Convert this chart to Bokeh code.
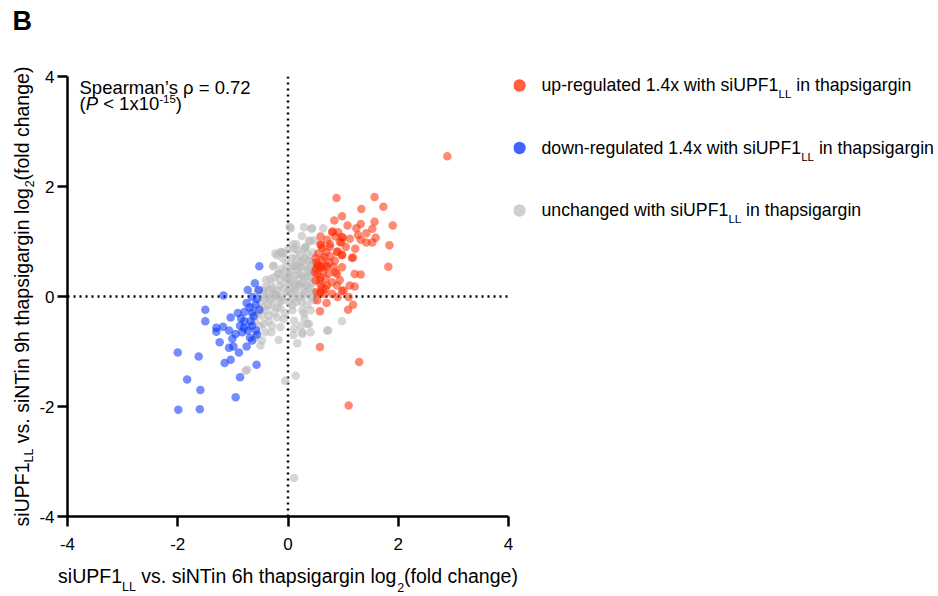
import math
from bokeh.plotting import figure
from bokeh.layouts import row, column
from bokeh.models import Range1d, Span, Label, FixedTicker
from bokeh.embed import file_html
from bokeh.resources import INLINE

# ---------------- data (log2 fold changes) ----------------
up_x = [2.89, 0.88, 1.57, 1.33, 1.73, 0.84, 0.98, 1.08, 1.32, 1.57, 1.90, 1.24, 1.53, 0.81, 0.91,
        1.27, 1.42, 1.59, 0.59, 0.71, 0.86, 0.99, 0.97, 1.32, 1.42, 1.53, 1.84, 0.59, 0.76, 1.22,
        0.69, 0.90, 0.98, 0.50, 0.62, 0.77, 1.18, 1.82, 0.53, 0.58, 0.71, 0.83, 0.98, 0.53, 0.74,
        0.86, 0.94, 1.21, 1.32, 0.50, 0.59, 0.71, 0.89, 1.12, 1.21, 0.59, 0.98, 0.53, 0.70, 0.90,
        1.10, 1.18, 1.09, 0.58, 0.58, 0.58, 1.29, 1.10, 0.56, 0.62, 0.49, 0.68, 0.89, 0.59, 0.68,
        0.80, 0.62, 0.52, 0.68, 1.01, 0.80, 0.98, 0.94, 0.60, 0.76, 0.89, 0.98, 1.16, 0.52, 0.55,
        0.64, 0.66, 0.51, 0.57, 0.75, 0.85, 0.62, 1.05, 1.12, 0.66, 0.80]
up_y = [2.55, 1.79, 1.81, 1.59, 1.63, 1.38, 1.46, 1.29, 1.32, 1.36, 1.29, 1.24, 1.23, 1.18, 1.17,
        1.12, 1.15, 1.07, 1.09, 1.03, 1.09, 1.07, 0.98, 1.03, 0.98, 0.98, 0.93, 0.95, 0.95, 0.87,
        0.81, 0.82, 0.76, 0.70, 0.67, 0.73, 0.71, 0.54, 0.56, 0.53, 0.55, 0.53, 0.53, 0.41, 0.42,
        0.44, 0.30, 0.41, 0.40, 0.29, 0.22, 0.20, 0.20, 0.20, 0.18, 0.08, 0.10, -0.07, -0.12, -0.01,
        -0.01, -0.15, -0.24, -0.27, 0.06, -0.92, -1.19, -1.98, 0.56, 0.53, 0.44, 0.56, 0.41, 0.35, 0.32,
        0.26, 0.17, 0.08, 0.14, 0.11, 1.17, 1.08, 0.99, 0.93, 0.90, 0.81, 0.75, 0.70, 0.62, 0.78,
        0.45, 0.72, 0.50, 0.30, 0.62, 0.65, 0.88, 0.90, 1.05, 0.05, 0.05]

down_x = [-0.52, -0.60, -0.73, -0.53, -1.17, -0.65, -0.56, -0.75, -0.59, -1.50, -0.52, -0.79, -0.91,
          -0.65, -1.04, -1.50, -0.68, -0.79, -1.18, -1.30, -0.87, -0.80, -0.65, -1.07, -1.30, -0.95,
          -0.83, -0.73, -0.56, -1.01, -0.69, -1.24, -0.65, -0.99, -1.07, -0.75, -0.89, -1.04, -1.15,
          -0.57, -2.00, -1.62, -1.83, -0.87, -1.59, -0.95, -1.99, -1.60, -0.62, -0.70, -0.85, -0.58]
down_y = [0.55, 0.24, 0.12, 0.12, 0.02, -0.01, -0.04, -0.12, -0.15, -0.24, -0.24, -0.28, -0.30,
          -0.30, -0.38, -0.45, -0.45, -0.45, -0.55, -0.57, -0.53, -0.57, -0.53, -0.62, -0.64, -0.68,
          -0.65, -0.62, -0.69, -0.77, -0.75, -0.83, -0.80, -0.91, -0.93, -0.91, -1.02, -1.15, -1.21,
          -1.24, -1.02, -1.09, -1.51, -1.47, -1.70, -1.83, -2.06, -2.05, -0.36, -0.20, -0.40, -0.62]

unch_x = [0.03, 0.29, 0.42, 0.38, -0.14, -0.23, 0.17, 0.29, 0.35, 0.14, 0.26, 0.38, 0.11, 0.23, 0.38,
          -0.05, -0.17, -0.32, 0.14, 0.29, 0.41, 0.05, 0.20, 0.35, -0.14, -0.29, -0.44, -0.01, 0.14,
          0.29, 0.44, -0.20, -0.38, 0.47, -0.41, -0.26, -0.11, 0.11, 0.26, 0.41, -0.44, -0.29, -0.14,
          0.08, 0.26, 0.41, -0.47, -0.35, -0.20, -0.08, 0.11, -0.44, -0.29, -0.14, 0.23, 0.38, -0.41,
          0.26, 0.41, -0.17, 0.17, -0.47, -0.77, -0.05, 0.14, 0.11, 0.64, -0.11, -0.26, -0.41, -0.50,
          -0.50, 0.11, 0.26, 0.71, 0.98, -0.74, 0.29, 0.35, -0.20, -0.27, 0.73, 0.47, 0.05, 0.44,
          0.11, 0.32, -0.08,
          -0.55, -0.50, -0.45, -0.40, -0.35, -0.30, -0.30, -0.25, -0.20, -0.20, -0.15, -0.12, -0.10,
          -0.08, -0.05, -0.03, 0.00, 0.02, 0.05, 0.07, 0.10, 0.12, 0.15, 0.18, 0.20, 0.22, 0.25, 0.28,
          0.30, 0.32, 0.35, 0.38, 0.40, 0.42, 0.45, 0.45, 0.47, -0.60, -0.55, -0.40, -0.35, -0.25,
          -0.15, -0.05, 0.05, 0.08, 0.15, 0.20, 0.25, 0.30, 0.35, 0.40, 0.15, 0.00, -0.10, 0.25,
          -0.65, -0.70, -0.60, -0.30, 0.10, 0.30, 0.02, 0.18, -0.22, 0.33, 0.08, -0.36, 0.22, -0.18,
          0.04, 0.36, -0.02, 0.27, 0.13, -0.27, 0.43, 0.09]
unch_y = [1.27, 1.26, 1.23, 1.02, 0.81, 0.78, 0.84, 0.87, 0.78, 0.69, 0.65, 0.65, 0.56, 0.53, 0.50,
          0.47, 0.41, 0.32, 0.38, 0.35, 0.35, 0.26, 0.23, 0.20, 0.20, 0.14, 0.11, 0.08, 0.11,
          0.06, 0.08, 0.02, -0.01, -0.07, -0.04, -0.01, -0.07, -0.04, -0.01, -0.01, -0.19, -0.16, -0.22,
          -0.16, -0.25, -0.25, -0.35, -0.35, -0.38, -0.41, -0.44, -0.50, -0.53, -0.56, -0.53, -0.50, -0.65,
          -0.68, -0.65, -0.79, -0.85, -0.80, -1.35, -1.53, -1.44, -3.30, 1.24, 0.81, 0.56, 0.17, -0.53,
          -0.89, -0.59, -0.65, -0.62, -0.45, -1.33, -0.31, -0.50, 0.75, 0.55, -0.62, 1.02, 1.24, 1.24,
          0.87, 0.90, 0.78,
          -0.30, -0.10, 0.05, -0.25, 0.10, -0.05, 0.20, 0.35, 0.10, -0.20, 0.30, 0.50, 0.00,
          0.15, 0.35, 0.60, 0.25, -0.10, 0.45, 0.70, 0.30, 0.15, 0.55, 0.00, 0.40, 0.75, 0.25, 0.55,
          0.10, 0.90, 0.35, 0.65, 0.15, 0.45, 0.80, 0.25, 0.60, -0.45, 0.10, 0.30, -0.45, -0.30,
          -0.10, -0.30, 0.05, -0.25, -0.10, 0.20, -0.10, 0.70, -0.15, 1.00, 0.95, 0.85, 0.70, 1.10,
          -0.20, -0.55, -0.75, -0.65, -0.70, -0.40, 0.40, 0.50, 0.05, 0.20, 0.55, -0.15, 0.62, 0.42,
          0.12, 0.48, 0.33, 0.38, 0.22, 0.05, 0.58, 0.95]

ticks = [-4, -2, 0, 2, 4]
tick_labels = {-4: "-4", -2: "-2", 0: "0", 2: "2", 4: "4"}

legend_texts = [
    ("up-regulated 1.4x with siUPF1", "LL", " in thapsigargin"),
    ("down-regulated 1.4x with siUPF1", "LL", " in thapsigargin"),
    ("unchanged with siUPF1", "LL", " in thapsigargin"),
]

RED, BLUE, GREY = "#FF2A00", "#0030FF", "#BBBBBB"
legend_colors = [(RED, 0.75), (BLUE, 0.75), (GREY, 0.7)]
FONT = "Liberation Sans"

# ---------------- page geometry (pixels) ----------------
PAGE_W, PAGE_H = 938, 596
LEFT_W = 36                  # left strip (panel letter + y label)
FL, FT, FW, FH = 67, 76, 441, 440
M_LB, M_RB, M_BB = FL - LEFT_W, 5, 42
ROW_H = FT + FH + M_BB       # 558
LEG_X0 = FL + FW + M_RB      # 513
LEG_W = PAGE_W - LEG_X0 - 1
BOT_H = PAGE_H - ROW_H       # 38
KB = 0.36                    # label anchor sits this fraction of the font size above the baseline


def strip(w, h, x0, top=0, bottom=0):
    f = figure(frame_width=w, frame_height=h,
               x_range=Range1d(x0, x0 + w), y_range=Range1d(0, h),
               x_axis_type=None, y_axis_type=None, output_backend="svg",
               toolbar_location=None, min_border=0, min_border_left=0, min_border_right=0,
               min_border_top=top, min_border_bottom=bottom)
    f.outline_line_color = None
    f.xgrid.visible = False
    f.ygrid.visible = False
    f.background_fill_color = "white"
    f.border_fill_color = "white"
    return f


# ---------------- main scatter ----------------
p = figure(frame_width=FW, frame_height=FH,
           min_border_left=M_LB, min_border_top=FT, min_border_right=M_RB,
           min_border_bottom=M_BB,
           x_range=Range1d(-4, 4), y_range=Range1d(-4, 4),
           output_backend="svg", toolbar_location=None)
p.outline_line_color = None
p.xgrid.visible = False
p.ygrid.visible = False
p.background_fill_color = "white"
p.border_fill_color = "white"

for ax, standoff in ((p.xaxis, 11), (p.yaxis, 3)):
    ax.ticker = FixedTicker(ticks=ticks)
    ax.major_label_overrides = tick_labels
    ax.axis_line_width = 2.5
    ax.axis_line_color = "black"
    ax.major_tick_line_width = 2.5
    ax.major_tick_line_color = "black"
    ax.major_tick_out = 10
    ax.major_tick_in = 0
    ax.minor_tick_out = 0
    ax.minor_tick_in = 0
    ax.major_label_text_font = FONT
    ax.major_label_text_font_size = "17px"
    ax.major_label_text_color = "black"
    ax.major_label_standoff = standoff

for dim in ("width", "height"):
    p.add_layout(Span(location=0, dimension=dim, line_color="black", line_width=2.5,
                      line_dash="2 4", level="underlay"))

p.scatter(unch_x, unch_y, size=8.5, fill_color=GREY, fill_alpha=0.6, line_color=None)
p.scatter(down_x, down_y, size=8.5, fill_color=BLUE, fill_alpha=0.55, line_color=None)
p.scatter(up_x, up_y, size=8.5, fill_color=RED, fill_alpha=0.55, line_color=None)

# ---------------- text helpers ----------------
AW = {' ': 278, '(': 333, ')': 333, '.': 278, '\u2019': 222, "'": 191, '-': 333, '=': 584, '<': 584,
      '\u03c1': 578, ',': 278}
for c in "0123456789":
    AW[c] = 556
AW.update(dict(zip("abcdefghijklmnopqrstuvwxyz",
                   [556, 556, 500, 556, 556, 278, 556, 556, 222, 222, 500, 222, 833, 556, 556, 556,
                    556, 333, 500, 278, 556, 500, 722, 500, 500, 500])))
AW.update(dict(zip("ABCDEFGHIJKLMNOPQRSTUVWXYZ",
                   [667, 667, 722, 722, 667, 611, 778, 722, 278, 500, 667, 556, 833, 722, 778, 667,
                    778, 722, 667, 611, 722, 667, 944, 667, 667, 611])))


def tw(s, size):
    return sum(AW.get(c, 556) for c in s) * size / 1000.0


def lab(f, x, y, text, size, style="normal", angle=0.0):
    f.add_layout(Label(x=x, y=y, x_units="data", y_units="data", text=text,
                       text_font=FONT, text_font_size=f"{size}px", text_font_style=style,
                       text_color="black", text_align="left", text_baseline="alphabetic",
                       angle=angle))


def pieces_h(f, px, base, pieces, conv):
    """Horizontal run of text pieces; base = wanted baseline (page px), dy = extra drop."""
    for text, size, dy, style in pieces:
        stripped = text.lstrip(" ")
        px += tw(text[:len(text) - len(stripped)], size)
        x, y = conv(px, base + dy - KB * size)
        lab(f, x, y, stripped, size, style)
        px += tw(stripped, size)


def main_conv(px, py):
    return -4 + (px - FL) / (FW / 8.0), 4 - (py - FT) / (FH / 8.0)


# statistics (inside the plot frame)
ST = 18.5
pieces_h(p, 79, 94, [("Spearman\u2019s \u03c1 = 0.72", ST, 0, "normal")], main_conv)
pieces_h(p, 79, 110, [("(", ST, 0, "normal"), ("P", ST, 0, "italic"), (" < 1x10", ST, 0, "normal"),
                      ("-15", 11.5, -7, "normal"), (")", ST, 0, "normal")], main_conv)

# ---------------- left strip: panel letter + y label ----------------
left = strip(LEFT_W, PAGE_H, 0)


def left_conv(px, py):
    return px, PAGE_H - py


pieces_h(left, 12, 30, [("B", 27, 0, "bold")], left_conv)

AX, SUB, OFF = 19.5, 12.5, 8
YBASE = 29                   # baseline of the rotated y label (page x)
yl = [("siUPF1", AX, 0, "normal"), ("LL", SUB, 4.2, "normal"),
      (" vs. siNTin 9h thapsigargin log", AX, 0, "normal"), ("2", SUB, 4.2, "normal"),
      ("(fold change)", AX, 0, "normal")]
Ly = sum(tw(t, s) for t, s, _, _ in yl)
cy = FT + FH / 2 + Ly / 2
for text, size, dy, style in yl:
    stripped = text.lstrip(" ")
    cy -= tw(text[:len(text) - len(stripped)], size)
    lab(left, *left_conv(YBASE + dy - KB * size, cy), stripped, size, style, angle=math.pi / 2)
    cy -= tw(stripped, size)

# ---------------- legend strip (frame aligned with the main frame) ----------------
leg = strip(LEG_W, FH, LEG_X0, top=FT, bottom=M_BB)


def leg_conv(px, py):
    return px, FT + FH - py


LS, LSUB, LOFF = 17.7, 11.5, 7
for i, ((a, b, c), (col, alpha)) in enumerate(zip(legend_texts, legend_colors)):
    yc = 85 + 62.5 * i
    leg.scatter(*[[v] for v in leg_conv(519, yc)], size=12.4, fill_color=col, fill_alpha=alpha,
                line_color=None)
    pieces_h(leg, 541, yc + 6, [(a, LS, 0, "normal"), (b, LSUB, LOFF, "normal"), (c, LS, 0, "normal")],
             leg_conv)

# ---------------- bottom strip: x label ----------------
BOT_W = PAGE_W - LEFT_W - 1
bot = strip(BOT_W, BOT_H, LEFT_W)


def bot_conv(px, py):
    return px, PAGE_H - py


xl = [("siUPF1", AX, 0, "normal"), ("LL", SUB, OFF, "normal"),
      (" vs. siNTin 6h thapsigargin log", AX, 0, "normal"), ("2", SUB, OFF, "normal"),
      ("(fold change)", AX, 0, "normal")]
Lx = sum(tw(t, s) for t, s, _, _ in xl)
pieces_h(bot, FL + FW / 2 - Lx / 2, 583, xl, bot_conv)

layout = row(left, column(row(p, leg), bot))
open("out.html", "w").write(file_html(layout, INLINE))
